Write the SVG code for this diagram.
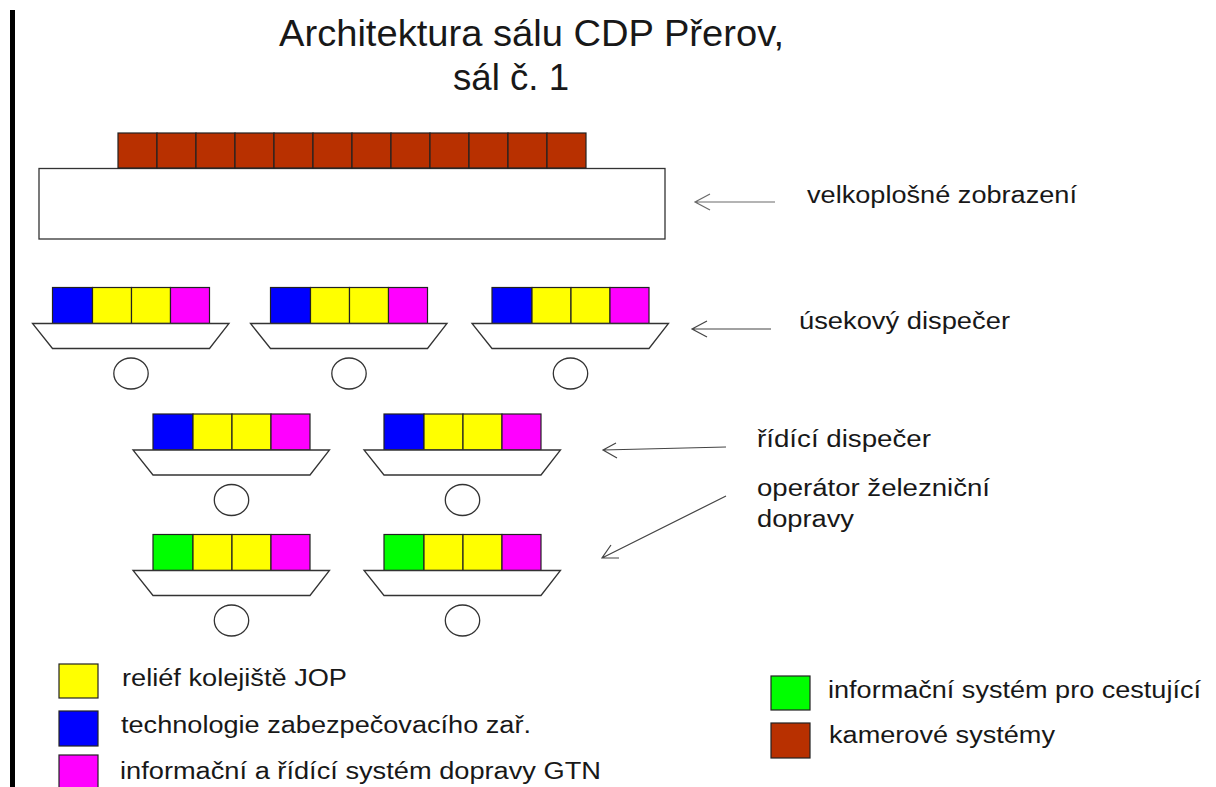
<svg xmlns="http://www.w3.org/2000/svg" width="1216" height="787" viewBox="0 0 1216 787">
<style>
text{font-family:"Liberation Sans",Arial,sans-serif;fill:#181818}
.t{font-size:23.500px}
.h{font-size:36px}
.c{stroke:#222;stroke-width:1.2}
.b{fill:#0000ff}.y{fill:#ffff00}.m{fill:#ff00ff}.g{fill:#00ff00}.r{fill:#b83000}
.d{fill:#fff;stroke:#333;stroke-width:1.3}
.a{fill:none;stroke:#444;stroke-width:1.2}
</style>
<defs>
<g id="base">
<rect class="y c" x="40" y="0" width="39" height="36"/>
<rect class="y c" x="79" y="0" width="39" height="36"/>
<rect class="m c" x="118" y="0" width="39" height="36"/>
<path class="d" d="M-20 36H176.500L157 61H0Z"/>
<ellipse class="d" cx="78.500" cy="86" rx="17.200" ry="15.500"/>
</g>
<g id="desk"><rect class="b c" x="0" y="0" width="40" height="36"/><use href="#base"/></g>
<g id="desk2"><rect class="g c" x="0" y="0" width="40" height="36"/><use href="#base"/></g>
</defs>
<rect id="edge" x="10" y="10" width="5" height="777" fill="#000"/>
<text class="h" x="279" y="46" textLength="505" lengthAdjust="spacingAndGlyphs">Architektura sálu CDP Přerov,</text>
<text class="h" x="453" y="90" textLength="116" lengthAdjust="spacingAndGlyphs">sál č. 1</text>
<g id="wall">
<rect class="d" x="39" y="168.500" width="626" height="70.500"/>
<g class="r c">
<rect x="118" y="133" width="39" height="35"/><rect x="157" y="133" width="39" height="35"/><rect x="196" y="133" width="39" height="35"/><rect x="235" y="133" width="39" height="35"/><rect x="274" y="133" width="39" height="35"/><rect x="313" y="133" width="39" height="35"/><rect x="352" y="133" width="39" height="35"/><rect x="391" y="133" width="39" height="35"/><rect x="430" y="133" width="39" height="35"/><rect x="469" y="133" width="39" height="35"/><rect x="508" y="133" width="39" height="35"/><rect x="547" y="133" width="39" height="35"/>
</g>
</g>
<use id="d1" href="#desk" x="52.500" y="287.500"/>
<use id="d2" href="#desk" x="270.500" y="287.500"/>
<use id="d3" href="#desk" x="492" y="287.500"/>
<use id="d4" href="#desk" x="153" y="414"/>
<use id="d5" href="#desk" x="384" y="414"/>
<use id="d6" href="#desk2" x="153" y="534.500"/>
<use id="d7" href="#desk2" x="384" y="534.500"/>
<g id="connectors" class="a">
<path d="M775 202H695M710 194L695 202L710 210" stroke-opacity=".8"/>
<path d="M771 329H692M707 321L692 329L707 337"/>
<path d="M726 447L603 450M616 443L603 450L617 458"/>
<path d="M726 496L602 558M611 545L602 558L619 558"/>
</g>
<text class="t" x="807" y="203" textLength="270" lengthAdjust="spacingAndGlyphs">velkoplošné zobrazení</text>
<text class="t" x="799" y="329" textLength="211" lengthAdjust="spacingAndGlyphs">úsekový dispečer</text>
<text class="t" x="757" y="447" textLength="174" lengthAdjust="spacingAndGlyphs">řídící dispečer</text>
<text class="t" x="757" y="496" textLength="233" lengthAdjust="spacingAndGlyphs">operátor železniční</text>
<text class="t" x="757" y="527" textLength="97" lengthAdjust="spacingAndGlyphs">dopravy</text>
<g id="legend">
<rect class="y c" x="59" y="664" width="39" height="34"/>
<rect class="b c" x="59" y="711" width="39" height="35"/>
<rect class="m c" x="59" y="755" width="39" height="34"/>
<rect class="g c" x="771" y="676" width="39" height="34"/>
<rect class="r c" x="771" y="723" width="39" height="35"/>
</g>
<text class="t" x="122" y="686" textLength="225" lengthAdjust="spacingAndGlyphs">reliéf kolejiště JOP</text>
<text class="t" x="121" y="733" textLength="410" lengthAdjust="spacingAndGlyphs">technologie zabezpečovacího zař.</text>
<text class="t" x="120" y="779" textLength="481" lengthAdjust="spacingAndGlyphs">informační a řídící systém dopravy GTN</text>
<text class="t" x="828" y="698" textLength="373" lengthAdjust="spacingAndGlyphs">informační systém pro cestující</text>
<text class="t" x="829" y="743" textLength="226" lengthAdjust="spacingAndGlyphs">kamerové systémy</text>
</svg>
